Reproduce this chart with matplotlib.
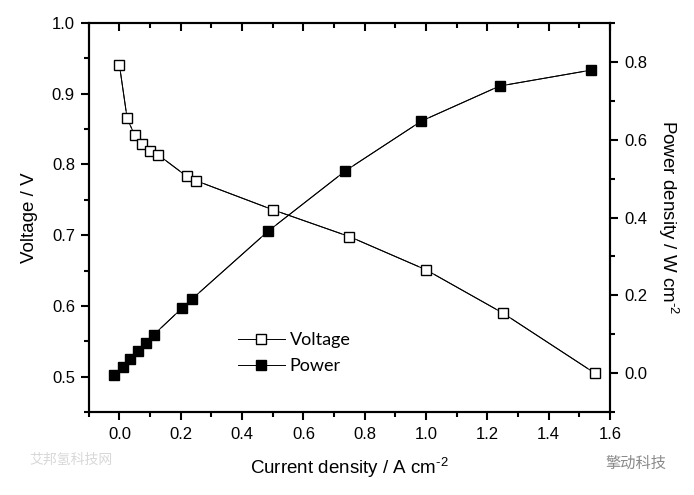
import matplotlib
matplotlib.use("Agg")
import matplotlib.pyplot as plt
from matplotlib.ticker import MultipleLocator, FormatStrFormatter

plt.rcParams['font.family'] = ['Liberation Sans', 'DejaVu Sans']
plt.rcParams['mathtext.fontset'] = 'custom'
plt.rcParams['mathtext.rm'] = 'Liberation Sans'
plt.rcParams['mathtext.default'] = 'regular'

# polarization data
current_v = [0.0, 0.025, 0.05, 0.075, 0.10, 0.125, 0.22, 0.25, 0.50, 0.75, 1.00, 1.25, 1.55]
voltage = [0.940, 0.865, 0.841, 0.829, 0.819, 0.814, 0.783, 0.777, 0.736, 0.698, 0.651, 0.590, 0.505]

current_p = [-0.017, 0.010, 0.035, 0.059, 0.086, 0.111, 0.204, 0.236, 0.485, 0.737, 0.985, 1.240, 1.539]
power = [-0.005, 0.016, 0.037, 0.057, 0.078, 0.098, 0.167, 0.190, 0.365, 0.520, 0.648, 0.738, 0.779]

fig = plt.figure(figsize=(6.94, 4.95), dpi=100)
ax = fig.add_axes([0.128, 0.1677, 0.751, 0.7858])
ax2 = ax.twinx()

ms = 6.5
# white halo behind markers gives the small gap between line and symbol
ax.plot(current_v, voltage, color='black', lw=0.7, zorder=1)
ax.plot(current_v, voltage, ls='none', marker='s', ms=ms + 3, mfc='white', mec='white', zorder=2)
hv, = ax.plot(current_v, voltage, color='black', lw=0.7, marker='s', ms=ms,
              mfc='white', mec='black', mew=1.0, zorder=3, label='Voltage')

ax2.plot(current_p, power, color='black', lw=0.7, zorder=1)
ax2.plot(current_p, power, ls='none', marker='s', ms=ms + 3, mfc='white', mec='white', zorder=2)
hp, = ax2.plot(current_p, power, color='black', lw=0.7, marker='s', ms=ms,
               mfc='black', mec='black', mew=1.0, zorder=3, label='Power')

ax.set_xlim(-0.1, 1.6)
ax.set_ylim(0.45, 1.0)
ax2.set_ylim(-0.1, 0.9)

ax.xaxis.set_major_locator(MultipleLocator(0.2))
ax.xaxis.set_minor_locator(MultipleLocator(0.1))
ax.yaxis.set_minor_locator(MultipleLocator(0.05))
ax2.yaxis.set_minor_locator(MultipleLocator(0.1))
ax.set_yticks([0.5, 0.6, 0.7, 0.8, 0.9, 1.0])
ax2.set_yticks([0.0, 0.2, 0.4, 0.6, 0.8])
ax.xaxis.set_major_formatter(FormatStrFormatter('%.1f'))
ax.yaxis.set_major_formatter(FormatStrFormatter('%.1f'))
ax2.yaxis.set_major_formatter(FormatStrFormatter('%.1f'))

for a in (ax, ax2):
    for s in a.spines.values():
        s.set_linewidth(1.5)
ax.tick_params(axis='x', which='both', direction='out', top=True, width=1.5, labelsize=12, pad=5)
ax.tick_params(axis='x', which='major', length=6)
ax.tick_params(axis='x', which='minor', length=3.5)
for a in (ax, ax2):
    a.tick_params(axis='y', which='both', direction='out', width=1.5, labelsize=12, pad=4)
    a.tick_params(axis='y', which='major', length=6)
    a.tick_params(axis='y', which='minor', length=3.5)
# top ticks point inward
for t in ax.xaxis.get_major_ticks() + ax.xaxis.get_minor_ticks():
    t.tick2line.set_marker(matplotlib.lines.TICKDOWN)

ax.set_xlabel('Current density / A cm$^{\u2010 2}$', fontsize=13.5, labelpad=10)
ax.set_ylabel('Voltage / V', fontsize=13.5, labelpad=10)
ax2.set_ylabel('Power density / W cm$^{\u2010 2}$', fontsize=13.5, rotation=270, labelpad=24)

leg = ax2.legend([hv, hp], ['Voltage', 'Power'], loc='upper left',
                 bbox_to_anchor=(0.255, 0.247), frameon=False, handlelength=2.6,
                 handletextpad=0.25, labelspacing=0.55,
                 prop={'family': ['Lato', 'DejaVu Sans'], 'size': 13})

# watermarks
fig.text(0.042, 0.07, '艾邦氢科技网', fontsize=10, color='#d8d8d8',
         family=['Noto Sans CJK SC', 'DejaVu Sans'], va='center')
fig.text(0.872, 0.064, '擎动科技', fontsize=11, color='#8a8a8a',
         family=['Noto Sans CJK SC', 'DejaVu Sans'], va='center')

fig.savefig('out.png', dpi=100)
